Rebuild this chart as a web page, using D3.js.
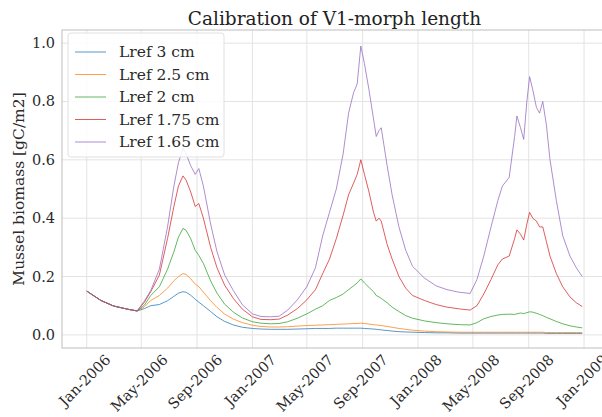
<!DOCTYPE html>
<html>
<head>
<meta charset="utf-8">
<script src="https://cdn.jsdelivr.net/npm/d3@7"></script>
<style>
  html, body { margin: 0; padding: 0; background: #fff; overflow: hidden; }
  svg { display: block; font-family: "DejaVu Serif", serif; }
</style>
</head>
<body>
<svg id="chart" width="602" height="417"></svg>
<script>
// Sample dates shared by every run
const dates = [
  "2006-01-01","2006-02-01","2006-03-01","2006-04-01","2006-04-22","2006-05-08","2006-05-22",
  "2006-06-10","2006-06-28","2006-07-12","2006-07-22","2006-08-01","2006-08-08","2006-08-18",
  "2006-08-28","2006-09-05","2006-09-15","2006-10-01","2006-10-15","2006-11-01","2006-11-20",
  "2006-12-10","2007-01-01","2007-01-20","2007-02-10","2007-03-01","2007-03-20","2007-04-10",
  "2007-05-01","2007-05-20","2007-06-05","2007-06-20","2007-07-05","2007-07-20","2007-08-01",
  "2007-08-12","2007-08-20","2007-08-28","2007-09-05","2007-09-15","2007-09-25","2007-10-01",
  "2007-10-07","2007-10-12","2007-10-25","2007-11-05","2007-11-20","2007-12-05","2007-12-20",
  "2008-01-15","2008-02-10","2008-03-05","2008-04-01","2008-04-25","2008-05-10","2008-05-25",
  "2008-06-10","2008-06-25","2008-07-05","2008-07-20","2008-08-01","2008-08-06","2008-08-14",
  "2008-08-21","2008-08-28","2008-09-03","2008-09-10","2008-09-18","2008-09-25","2008-10-02",
  "2008-10-10","2008-10-18","2008-11-01","2008-11-15","2008-12-01","2008-12-15","2008-12-28"
];

// Mussel biomass [gC/m2] for each reference length
const lref3 = [
  .150,.118,.099,.088,.082,.090,.100,.104,.117,.132,.143,.148,.146,.136,
  .122,.112,.100,.080,.062,.046,.034,.026,.022,.020,.019,.019,.019,.020,
  .021,.022,.022,.022,.023,.023,.023,.023,.023,.023,.022,.021,.020,.019,
  .018,.017,.015,.013,.011,.010,.009,.008,.007,.007,.006,.006,.006,.006,
  .006,.006,.006,.006,.006,.006,.006,.006,.006,.006,.006,.006,.006,.006,
  .005,.005,.005,.005,.005,.005,.005
];
const lref25 = [
  .150,.118,.099,.088,.082,.096,.118,.135,.160,.185,.200,.210,.207,.192,
  .174,.165,.147,.117,.094,.071,.054,.042,.033,.029,.027,.027,.028,.030,
  .032,.033,.034,.035,.036,.037,.038,.039,.039,.040,.039,.037,.035,.034,
  .033,.032,.029,.026,.022,.019,.016,.013,.011,.010,.009,.009,.009,.009,
  .009,.009,.009,.009,.009,.009,.009,.009,.009,.009,.009,.009,.009,.009,
  .008,.008,.008,.008,.008,.008,.008
];
const lref2 = [
  .150,.118,.099,.088,.082,.102,.135,.165,.225,.285,.335,.365,.358,.330,
  .290,.272,.245,.185,.143,.105,.078,.058,.045,.040,.038,.039,.045,.057,
  .072,.088,.100,.118,.128,.140,.155,.168,.178,.192,.178,.163,.148,.135,
  .130,.125,.110,.095,.080,.066,.057,.048,.042,.038,.035,.034,.042,.055,
  .063,.068,.070,.071,.070,.072,.075,.073,.076,.079,.078,.074,.070,.066,
  .060,.055,.046,.038,.031,.027,.024
];
const lref175 = [
  .150,.118,.099,.088,.082,.112,.148,.205,.330,.440,.510,.545,.530,.490,
  .440,.450,.400,.300,.230,.170,.125,.088,.062,.053,.052,.054,.068,.090,
  .120,.155,.210,.260,.330,.410,.480,.520,.550,.600,.550,.490,.420,.390,
  .400,.390,.310,.260,.200,.160,.135,.118,.104,.095,.089,.085,.100,.140,
  .190,.240,.260,.270,.330,.360,.345,.325,.380,.420,.400,.390,.370,.370,
  .320,.270,.210,.165,.130,.110,.097
];
const lref165 = [
  .150,.118,.099,.088,.082,.116,.152,.225,.370,.510,.590,.640,.620,.580,
  .550,.570,.510,.380,.285,.205,.152,.103,.072,.063,.062,.064,.085,.120,
  .165,.230,.340,.420,.500,.620,.760,.830,.860,.990,.930,.840,.740,.680,
  .700,.710,.580,.480,.370,.290,.235,.195,.168,.155,.146,.142,.190,.270,
  .370,.460,.510,.540,.680,.750,.710,.670,.800,.885,.840,.780,.760,.800,
  .720,.600,.460,.340,.270,.230,.200
];

const seriesNames = ["Lref 3 cm", "Lref 2.5 cm", "Lref 2 cm", "Lref 1.75 cm", "Lref 1.65 cm"];
const seriesValues = [lref3, lref25, lref2, lref175, lref165];
const seriesColors = ["#1f77b4", "#ff7f0e", "#2ca02c", "#d62728", "#9467bd"];

const yTicks = [0.0, 0.2, 0.4, 0.6, 0.8, 1.0];
const titleText = "Calibration of V1-morph length";
const yLabelText = "Mussel biomass [gC/m2]";

// ---- layout ----
const svg = d3.select("#chart");
const plot = { left: 62, right: 607, top: 30, bottom: 348 };

const parse = d3.utcParse("%Y-%m-%d");
const times = dates.map(parse);

// 5% padding on both ends of the time range
const t0 = d3.min(times), t1 = d3.max(times);
const pad = (t1 - t0) * 0.05;
const x = d3.scaleUtc()
  .domain([new Date(+t0 - pad), new Date(+t1 + pad)])
  .range([plot.left, plot.right]);

const y = d3.scaleLinear()
  .domain([-0.045, 1.045])
  .range([plot.bottom, plot.top]);

const xTicks = d3.utcMonth.range(parse("2006-01-01"), parse("2009-01-02"), 4);
const fmt = d3.utcFormat("%b-%Y");

svg.append("defs").append("clipPath").attr("id", "plotclip")
  .append("rect")
  .attr("x", plot.left).attr("y", plot.top)
  .attr("width", plot.right - plot.left).attr("height", plot.bottom - plot.top);

// grid
const grid = svg.append("g");
grid.selectAll("line.v").data(xTicks).join("line")
  .attr("x1", d => x(d)).attr("x2", d => x(d))
  .attr("y1", plot.top).attr("y2", plot.bottom)
  .attr("stroke", "#e3e3e3").attr("stroke-width", 1);
grid.selectAll("line.h").data(yTicks).join("line")
  .attr("x1", plot.left).attr("x2", plot.right)
  .attr("y1", d => y(d)).attr("y2", d => y(d))
  .attr("stroke", "#e3e3e3").attr("stroke-width", 1);

// series
const line = d3.line()
  .x((d, i) => x(times[i]))
  .y(d => y(d));

svg.append("g").attr("clip-path", "url(#plotclip)")
  .selectAll("path").data(seriesValues).join("path")
  .attr("d", d => line(d))
  .attr("fill", "none")
  .attr("stroke", (d, i) => seriesColors[i])
  .attr("stroke-width", 1)
  .attr("stroke-opacity", 0.75)
  .attr("stroke-linejoin", "round");

// frame
svg.append("rect")
  .attr("x", plot.left).attr("y", plot.top)
  .attr("width", plot.right - plot.left).attr("height", plot.bottom - plot.top)
  .attr("fill", "none").attr("stroke", "#bdbdbd").attr("stroke-width", 1);

// y tick labels
svg.append("g").selectAll("text").data(yTicks).join("text")
  .attr("x", plot.left - 7).attr("y", d => y(d))
  .attr("text-anchor", "end").attr("dominant-baseline", "central")
  .attr("font-size", 14.5).attr("fill", "#2a2a2a")
  .text(d => d3.format(".1f")(d));

// x tick labels, rotated 45° and centred under each tick
const xFont = 14.5;
const xl = svg.append("g").selectAll("text").data(xTicks).join("text")
  .attr("text-anchor", "middle").attr("dominant-baseline", "central")
  .attr("font-size", xFont).attr("fill", "#2a2a2a")
  .text(d => fmt(d));
xl.each(function(d) {
  const w = this.getComputedTextLength();
  const half = (w + xFont) * Math.SQRT1_2 / 2;
  const cx = x(d) - 2, cy = plot.bottom + 4 + half;
  d3.select(this).attr("transform", `translate(${cx},${cy}) rotate(-45)`);
});

// axis title
svg.append("text")
  .attr("transform", `translate(19,${(plot.top + plot.bottom) / 2}) rotate(-90)`)
  .attr("text-anchor", "middle").attr("dominant-baseline", "central")
  .attr("font-size", 15.5).attr("fill", "#2a2a2a")
  .text(yLabelText);

// chart title
svg.append("text")
  .attr("x", (plot.left + plot.right) / 2).attr("y", 25)
  .attr("text-anchor", "middle")
  .attr("font-size", 18.5).attr("fill", "#222")
  .text(titleText);

// legend
const lg = svg.append("g");
lg.append("rect")
  .attr("x", 68).attr("y", 33).attr("width", 156).attr("height", 124)
  .attr("rx", 3).attr("fill", "#fff").attr("fill-opacity", 0.85)
  .attr("stroke", "#e0e0e0");
const items = lg.selectAll("g.item").data(seriesNames).join("g")
  .attr("transform", (d, i) => `translate(0,${52 + i * 22.5})`);
items.append("line")
  .attr("x1", 75).attr("x2", 106)
  .attr("stroke", (d, i) => seriesColors[i]).attr("stroke-width", 1).attr("stroke-opacity", 0.75);
items.append("text")
  .attr("x", 119).attr("dominant-baseline", "central")
  .attr("font-size", 15.5).attr("fill", "#2a2a2a")
  .text(d => d);
</script>
</body>
</html>
